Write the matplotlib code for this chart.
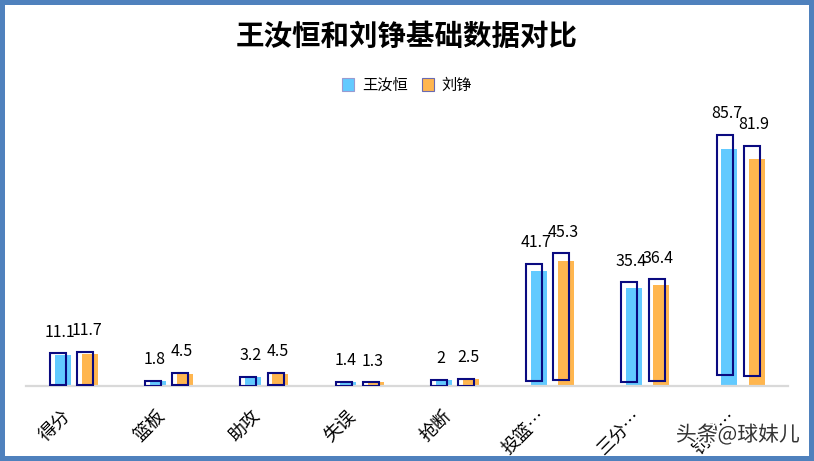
import numpy as np
import matplotlib
matplotlib.use("Agg")
import matplotlib.pyplot as plt
import matplotlib.patheffects as pe
from matplotlib.patches import Patch

plt.rcParams['font.family'] = ['Noto Sans CJK SC', 'DejaVu Sans']

# datos
categorias = ['得分', '篮板', '助攻', '失误', '抢断', '投篮…', '三分…', '罚球…']
wang = [11.1, 1.8, 3.2, 1.4, 2, 41.7, 35.4, 85.7]
liu = [11.7, 4.5, 4.5, 1.3, 2.5, 45.3, 36.4, 81.9]
series = ['王汝恒', '刘铮']

azul = '#62CAFF'
naranja = '#FFB64F'
marino = '#0A0A80'

W, H = 814, 461
fig = plt.figure(figsize=(W / 100, H / 100), dpi=100,
                 linewidth=6, edgecolor='#4F81BD')

# area del grafico en pixeles: x 26..788, eje en y=386
ax = fig.add_axes([26 / W, (H - 386) / H, 762 / W, 276.6 / H])
ax.set_xlim(-0.5, len(categorias) - 0.5)
ax.set_ylim(0, 100)

x = np.arange(len(categorias))
ancho = 0.168
desp = [-0.115, 0.17]      # centro de la barra rellena
sombra = 0.05              # contorno desplazado a la izquierda

for vals, d, col in zip([wang, liu], desp, [azul, naranja]):
    vals = np.array(vals, dtype=float)
    ax.bar(x + d, vals, width=ancho, color=col, zorder=2)
    # contorno "3D" de Excel
    base = vals * 0.045
    tope = vals * 1.06
    ax.bar(x + d - sombra, tope - base, bottom=base, width=ancho,
           fill=False, edgecolor=marino, linewidth=1.5, zorder=3)
    for xi, v, t in zip(x, vals, tope):
        ax.annotate(f'{v:g}', (xi + d - 0.03, t), xytext=(0, 12),
                    textcoords='offset points', ha='center', va='baseline',
                    fontsize=11.5, color='black', zorder=4)

for s in ['top', 'right', 'left']:
    ax.spines[s].set_visible(False)
ax.spines['bottom'].set_color('#D9D9D9')
ax.spines['bottom'].set_linewidth(1.6)
ax.set_yticks([])
ax.set_xticks(x)
ax.set_xticklabels(categorias, rotation=45, ha='right', fontsize=13)
ax.tick_params(axis='x', length=0, pad=15)

fig.text(0.5, 1 - 37 / H, '王汝恒和刘铮基础数据对比', ha='center', va='center',
         fontsize=20.5, fontweight='bold')

handles = [Patch(facecolor=azul, edgecolor='#9A9AD0', linewidth=0.8),
           Patch(facecolor=naranja, edgecolor='#6A6AB0', linewidth=0.8)]
fig.legend(handles, series, loc='center', bbox_to_anchor=(0.5, 1 - 85 / H),
           ncol=2, frameon=False, fontsize=11, handlelength=0.8,
           handleheight=0.9, handletextpad=0.5, columnspacing=0.9)

fig.text(800 / W, 1 - 435 / H, '头条@球妹儿', ha='right', va='center',
         fontsize=15, color='#333333',
         path_effects=[pe.withStroke(linewidth=3, foreground='white')])

fig.savefig('out.png', dpi=100)
